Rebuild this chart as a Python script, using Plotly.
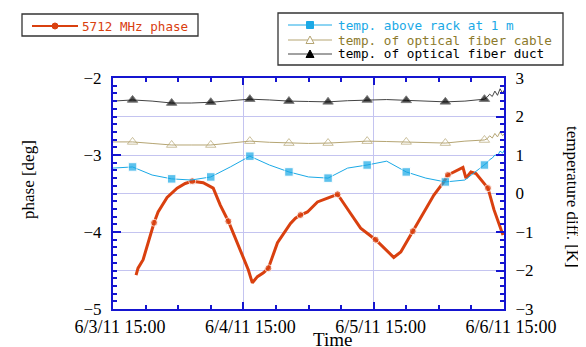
import numpy as np
import pandas as pd
import plotly.graph_objects as go

# ---------------- data (days since 6/3/11 15:00) ----------------
phase_days = [0.177, 0.192, 0.231, 0.315, 0.346, 0.415, 0.492, 0.554, 0.608, 0.692,
              0.769, 0.823, 0.885, 0.954, 1.015, 1.038, 1.069, 1.108, 1.154, 1.192,
              1.262, 1.362, 1.400, 1.438, 1.492, 1.569, 1.646, 1.723, 1.823, 1.900,
              2.015, 2.092, 2.154, 2.208, 2.300, 2.400, 2.462, 2.538, 2.569, 2.685,
              2.708, 2.746, 2.785, 2.877, 2.923, 2.992]
phase_deg = [-4.56, -4.47, -4.36, -3.88, -3.74, -3.55, -3.43, -3.37, -3.34, -3.36,
             -3.43, -3.65, -3.86, -4.15, -4.41, -4.49, -4.66, -4.58, -4.53, -4.47,
             -4.14, -3.89, -3.82, -3.78, -3.74, -3.61, -3.56, -3.51, -3.76, -3.95,
             -4.10, -4.23, -4.33, -4.26, -3.99, -3.69, -3.52, -3.35, -3.26, -3.16,
             -3.30, -3.22, -3.24, -3.43, -3.71, -4.04]
phase_marker_days = [0.315, 0.608, 0.885, 1.192, 1.438, 1.723, 2.015, 2.300, 2.569, 2.877]

temp_days = [0.00, 0.15, 0.30, 0.45, 0.60, 0.75, 0.90, 1.05, 1.20, 1.35, 1.50,
             1.65, 1.80, 1.95, 2.10, 2.25, 2.40, 2.55, 2.70, 2.85,
             2.87, 2.89, 2.91, 2.93, 2.95, 2.97, 2.99, 3.00]
temp_rack = [0.66, 0.69, 0.48, 0.38, 0.35, 0.43, 0.69, 0.97, 0.74, 0.56, 0.43,
             0.40, 0.66, 0.74, 0.84, 0.56, 0.40, 0.30, 0.35, 0.74,
             0.80, 0.88, 0.92, 1.00, 0.98, 1.10, 1.05, 1.12]
temp_cable = [1.34, 1.34, 1.30, 1.26, 1.26, 1.26, 1.31, 1.36, 1.33, 1.31, 1.30,
              1.31, 1.34, 1.36, 1.35, 1.34, 1.32, 1.31, 1.36, 1.39,
              1.42, 1.50, 1.44, 1.56, 1.47, 1.60, 1.50, 1.55]
temp_duct = [2.40, 2.43, 2.40, 2.35, 2.35, 2.37, 2.41, 2.45, 2.43, 2.40, 2.39,
             2.38, 2.41, 2.43, 2.44, 2.42, 2.40, 2.38, 2.40, 2.45,
             2.50, 2.58, 2.52, 2.66, 2.55, 2.72, 2.60, 2.68]
temp_marker_days = [0.15, 0.45, 0.75, 1.05, 1.35, 1.65, 1.95, 2.25, 2.55, 2.85]

x_ticktext = ["6/3/11 15:00", "6/4/11 15:00", "6/5/11 15:00", "6/6/11 15:00"]
series_names = ["5712 MHz phase", "temp. above rack at 1 m",
                "temp. of optical fiber cable", "temp. of optical fiber duct"]

# ---------------- helpers ----------------
base = pd.Timestamp("2011-06-03 15:00")
def to_time(d):
    return base + pd.to_timedelta(np.asarray(d, dtype=float), unit="D")

def sizes(days, marks, s):
    days = np.asarray(days)
    return [s if np.any(np.isclose(d, marks, atol=1e-6)) else 0 for d in days]

RED = "#d9400f"
CYAN = "#1aa9e6"
TAN = "#b5a573"
TANTXT = "#8c7a2c"
DUCT = "#444444"
AXIS = "#1515d0"
GRID = "#c4c4f0"

# page body has an 8px margin: figure drawn from (8, 8)
OFF = 8
W, H = 586 - OFF, 347 - OFF
L, R, T, B = 113 - OFF, 82, 78 - OFF, 38
pw, ph = 504 - 113, 309 - 78
def px(x): return (x - 113) / pw      # reference-pixel -> paper
def py(y): return (309 - y) / ph

fig = go.Figure()

tt = to_time(temp_days)
fig.add_trace(go.Scatter(x=tt, y=temp_duct, yaxis="y2", mode="lines+markers",
                         line=dict(color=DUCT, width=1),
                         marker=dict(symbol="triangle-up", color="black",
                                     size=sizes(temp_days, temp_marker_days, 9)),
                         showlegend=False))
fig.add_trace(go.Scatter(x=tt, y=temp_cable, yaxis="y2", mode="lines+markers",
                         line=dict(color=TAN, width=1),
                         marker=dict(symbol="triangle-up-open", color=TAN,
                                     size=sizes(temp_days, temp_marker_days, 9)),
                         showlegend=False))
fig.add_trace(go.Scatter(x=tt, y=temp_rack, yaxis="y2", mode="lines+markers",
                         line=dict(color=CYAN, width=1),
                         marker=dict(symbol="square", color=CYAN,
                                     size=sizes(temp_days, temp_marker_days, 8.5)),
                         showlegend=False))
fig.add_trace(go.Scatter(x=to_time(phase_days), y=phase_deg, mode="lines+markers",
                         line=dict(color=RED, width=3),
                         marker=dict(symbol="circle", color=RED,
                                     size=sizes(phase_days, phase_marker_days, 7)),
                         showlegend=False))

# ---------------- custom legend boxes (paper coords) ----------------
shapes = []
annotations = []

def box(x0, y0, x1, y1):
    shapes.append(dict(type="rect", xref="paper", yref="paper",
                       x0=px(x0), x1=px(x1), y0=py(y1), y1=py(y0),
                       line=dict(color="#333333", width=1.3), fillcolor="white"))

def entry(y, lx0, lx1, mx, color, lw, marker, mcolor, text, tcolor, tx, fs):
    shapes.append(dict(type="line", xref="paper", yref="paper",
                       x0=px(lx0), x1=px(lx1), y0=py(y), y1=py(y),
                       line=dict(color=color, width=lw)))
    s = 3.5
    if marker == "circle":
        shapes.append(dict(type="circle", xref="paper", yref="paper",
                           x0=px(mx - 3), x1=px(mx + 3), y0=py(y + 3), y1=py(y - 3),
                           line=dict(color=mcolor, width=1), fillcolor=mcolor))
    elif marker == "square":
        shapes.append(dict(type="rect", xref="paper", yref="paper",
                           x0=px(mx - s), x1=px(mx + s), y0=py(y + s), y1=py(y - s),
                           line=dict(color=mcolor, width=1), fillcolor=mcolor))
    else:
        xa, xb, xc = px(mx - 4), px(mx + 4), px(mx)
        ya, yc = py(y + 3.5), py(y - 4)
        path = f"M {xa} {ya} L {xb} {ya} L {xc} {yc} Z"
        shapes.append(dict(type="path", xref="paper", yref="paper", path=path,
                           line=dict(color=mcolor, width=1),
                           fillcolor=mcolor if marker == "tri" else "white"))
    annotations.append(dict(text=text, x=px(tx), y=py(y), xref="paper", yref="paper",
                            xanchor="left", yanchor="middle", showarrow=False,
                            font=dict(family="DejaVu Sans Mono", size=fs,
                                      color=tcolor)))

box(22, 14, 198, 36)
entry(26, 32, 78, 55, RED, 2, "circle", RED, series_names[0], RED, 80, 12.6)
box(278, 13, 563, 65)
entry(25, 288, 332, 310, CYAN, 1, "square", CYAN, series_names[1], CYAN, 336, 12.7)
entry(40, 288, 332, 310, TAN, 1, "tri-open", TAN, series_names[2], TANTXT, 336, 12.7)
entry(54, 288, 332, 310, DUCT, 1, "tri", "black", series_names[3], "black", 336, 12.7)

annotations += [
    dict(text="phase [deg]", x=px(28), y=py(180), xref="paper", yref="paper",
         xanchor="center", yanchor="middle",
         textangle=-90, showarrow=False,
         font=dict(family="Liberation Serif", size=17, color="black")),
    dict(text="temperature diff. [K]", x=px(573), y=py(197), xref="paper", yref="paper",
         xanchor="center", yanchor="middle",
         textangle=90, showarrow=False,
         font=dict(family="Liberation Serif", size=17, color="black")),
    dict(text="Time", x=px(332), y=py(339), xref="paper", yref="paper",
         xanchor="center", yanchor="middle",
         showarrow=False,
         font=dict(family="Liberation Serif", size=19, color="black")),
]

tickfont = dict(family="Liberation Serif", size=17, color="black")

fig.update_layout(
    width=W, height=H, margin=dict(l=L, r=R, t=T, b=B, autoexpand=False),
    paper_bgcolor="white", plot_bgcolor="white",
    showlegend=False,
    xaxis=dict(type="date", range=[base, base + pd.Timedelta(days=3)],
               tickvals=to_time([0, 1, 2, 3]), ticktext=x_ticktext,
               tickfont=dict(family="Liberation Serif", size=18, color="black"),
               ticklabelshift=7, automargin=False,
               showline=True, linecolor=AXIS, linewidth=2, mirror="ticks",
               ticks="inside", ticklen=7, tickcolor=AXIS, tickwidth=2,
               showgrid=True, gridcolor=GRID, gridwidth=1, zeroline=False,
               minor=dict(dtick=6 * 3600 * 1000, tick0=base, ticks="inside",
                          ticklen=4, tickcolor=AXIS, tickwidth=1.5, showgrid=False)),
    yaxis=dict(range=[-5, -2], tickvals=[-5, -4, -3, -2], tickfont=tickfont,
               automargin=False,
               showline=True, linecolor=AXIS, linewidth=2,
               ticks="inside", ticklen=8, tickcolor=AXIS, tickwidth=2,
               showgrid=False, zeroline=False, ticklabelstandoff=6,
               minor=dict(dtick=0.1, ticks="inside", ticklen=4, tickcolor=AXIS,
                          tickwidth=1.5, showgrid=False)),
    yaxis2=dict(range=[-3, 3], dtick=1, tick0=0, overlaying="y", side="right",
                tickfont=tickfont, automargin=False,
                showline=True, linecolor=AXIS, linewidth=2,
                ticks="inside", ticklen=8, tickcolor=AXIS, tickwidth=2,
                showgrid=True, gridcolor=GRID, gridwidth=1, zeroline=False,
                ticklabelstandoff=6,
                minor=dict(dtick=0.2, ticks="inside", ticklen=4, tickcolor=AXIS,
                           tickwidth=1.5, showgrid=False)),
    shapes=shapes,
    annotations=annotations,
)

fig.write_html("out.html")
